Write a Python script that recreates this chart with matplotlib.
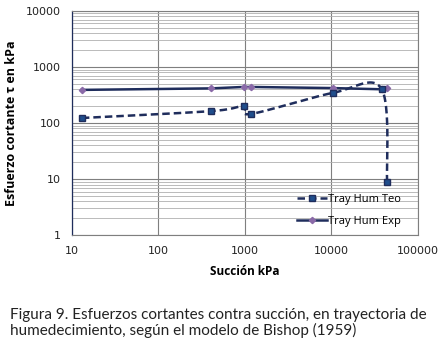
import numpy
from matplotlib import pyplot
from matplotlib.ticker import LogLocator, FixedLocator, NullFormatter

FONTSIZE = 8

# data
suction = [13, 405, 970, 1170, 10400, 38000, 44000]  # kPa
tau_teo = [123, 163, 200, 145, 345, 405, 9]  # kPa
tau_exp = [390, 415, 440, 440, 420, 400, 420]  # kPa

x_ticks = [10, 100, 1000, 10000, 100000]
y_ticks = [1, 10, 100, 1000, 10000]

NAVY = "#1f2d5c"
TEO_MARK = "#1f4e8c"
EXP_MARK = "#8a6aa8"


def smooth(xs, ys, n=30):
    # Excel-style smoothed line (Catmull-Rom in log space)
    lx = numpy.log10(xs)
    ly = numpy.log10(ys)
    px = numpy.concatenate([[lx[0]], lx, [lx[-1]]])
    py = numpy.concatenate([[ly[0]], ly, [ly[-1]]])
    out_x, out_y = [], []
    for i in range(1, len(px) - 2):
        t = numpy.linspace(0, 1, n)
        for p, out in ((px, out_x), (py, out_y)):
            p0, p1, p2, p3 = p[i - 1], p[i], p[i + 1], p[i + 2]
            out.extend(
                0.5
                * (
                    2 * p1
                    + (-p0 + p2) * t
                    + (2 * p0 - 5 * p1 + 4 * p2 - p3) * t ** 2
                    + (-p0 + 3 * p1 - 3 * p2 + p3) * t ** 3
                )
            )
    return 10 ** numpy.array(out_x), 10 ** numpy.array(out_y)


fig = pyplot.figure(figsize=(4.39, 3.52), dpi=100)
ax = fig.add_axes([0.164, 0.332, 0.788, 0.637])
ax.set_xscale("log")
ax.set_yscale("log")
ax.set_xlim(10, 100000)
ax.set_ylim(1, 10000)

ax.xaxis.set_major_locator(FixedLocator(x_ticks))
ax.yaxis.set_major_locator(FixedLocator(y_ticks))
ax.xaxis.set_minor_locator(FixedLocator([]))
ax.yaxis.set_minor_locator(LogLocator(base=10, subs=numpy.arange(2, 10)))
ax.yaxis.set_minor_formatter(NullFormatter())
ax.set_xticklabels([str(v) for v in x_ticks], fontsize=FONTSIZE, family="DejaVu Sans", color="#222222")
ax.set_yticklabels([str(v) for v in y_ticks], fontsize=FONTSIZE, family="DejaVu Sans", color="#222222")
ax.tick_params(which="both", length=0, pad=8)

ax.grid(which="major", color="#7f7f7f", linewidth=0.8)
ax.grid(which="minor", axis="y", color="#b0b0b0", linewidth=0.6)
ax.set_axisbelow(True)
for side in ["top", "right", "bottom"]:
    ax.spines[side].set_color("#7f7f7f")
ax.spines["left"].set_color(NAVY)
ax.spines["left"].set_linewidth(0.9)

sx, sy = smooth(suction, tau_teo)
ax.plot(sx, sy, color=NAVY, linewidth=1.8, linestyle=(0, (3, 1.6)), zorder=3)
ax.plot(suction, tau_teo, linestyle="none", marker="s", markersize=4.5,
        color=TEO_MARK, markeredgecolor=NAVY, zorder=4)
teo_handle, = ax.plot([], [], color=NAVY, linewidth=1.8, linestyle=(0, (3, 1.6)),
                      marker="s", markersize=4.5, markerfacecolor=TEO_MARK,
                      markeredgecolor=NAVY, label="Tray Hum Teo")

ax.plot(suction, tau_exp, color=NAVY, linewidth=1.8, marker="D", markersize=3.2,
        markerfacecolor=EXP_MARK, markeredgecolor=EXP_MARK, zorder=3,
        label="Tray Hum Exp")

ax.set_xlabel("Succión kPa", fontsize=8.5, fontweight="bold", family="Open Sans", labelpad=6)
ax.set_ylabel("Esfuerzo cortante τ en kPa", fontsize=9, fontweight="bold", family="Open Sans", labelpad=6)

handles, labels = ax.get_legend_handles_labels()
ax.legend(
    handles,
    labels,
    loc="lower right",
    bbox_to_anchor=(0.98, -0.01),
    frameon=False,
    handlelength=2.7,
    handletextpad=0.1,
    labelspacing=1.0,
    prop={"family": "Open Sans", "size": 8},
)

fig.text(0.023, 0.04, "Figura 9. Esfuerzos cortantes contra succión, en trayectoria de\n"
         "humedecimiento, según el modelo de Bishop (1959)",
         fontsize=11, family="Lato", color="#222222", linespacing=1.1, va="bottom")

fig.savefig("out.png", dpi=100, facecolor="white")
